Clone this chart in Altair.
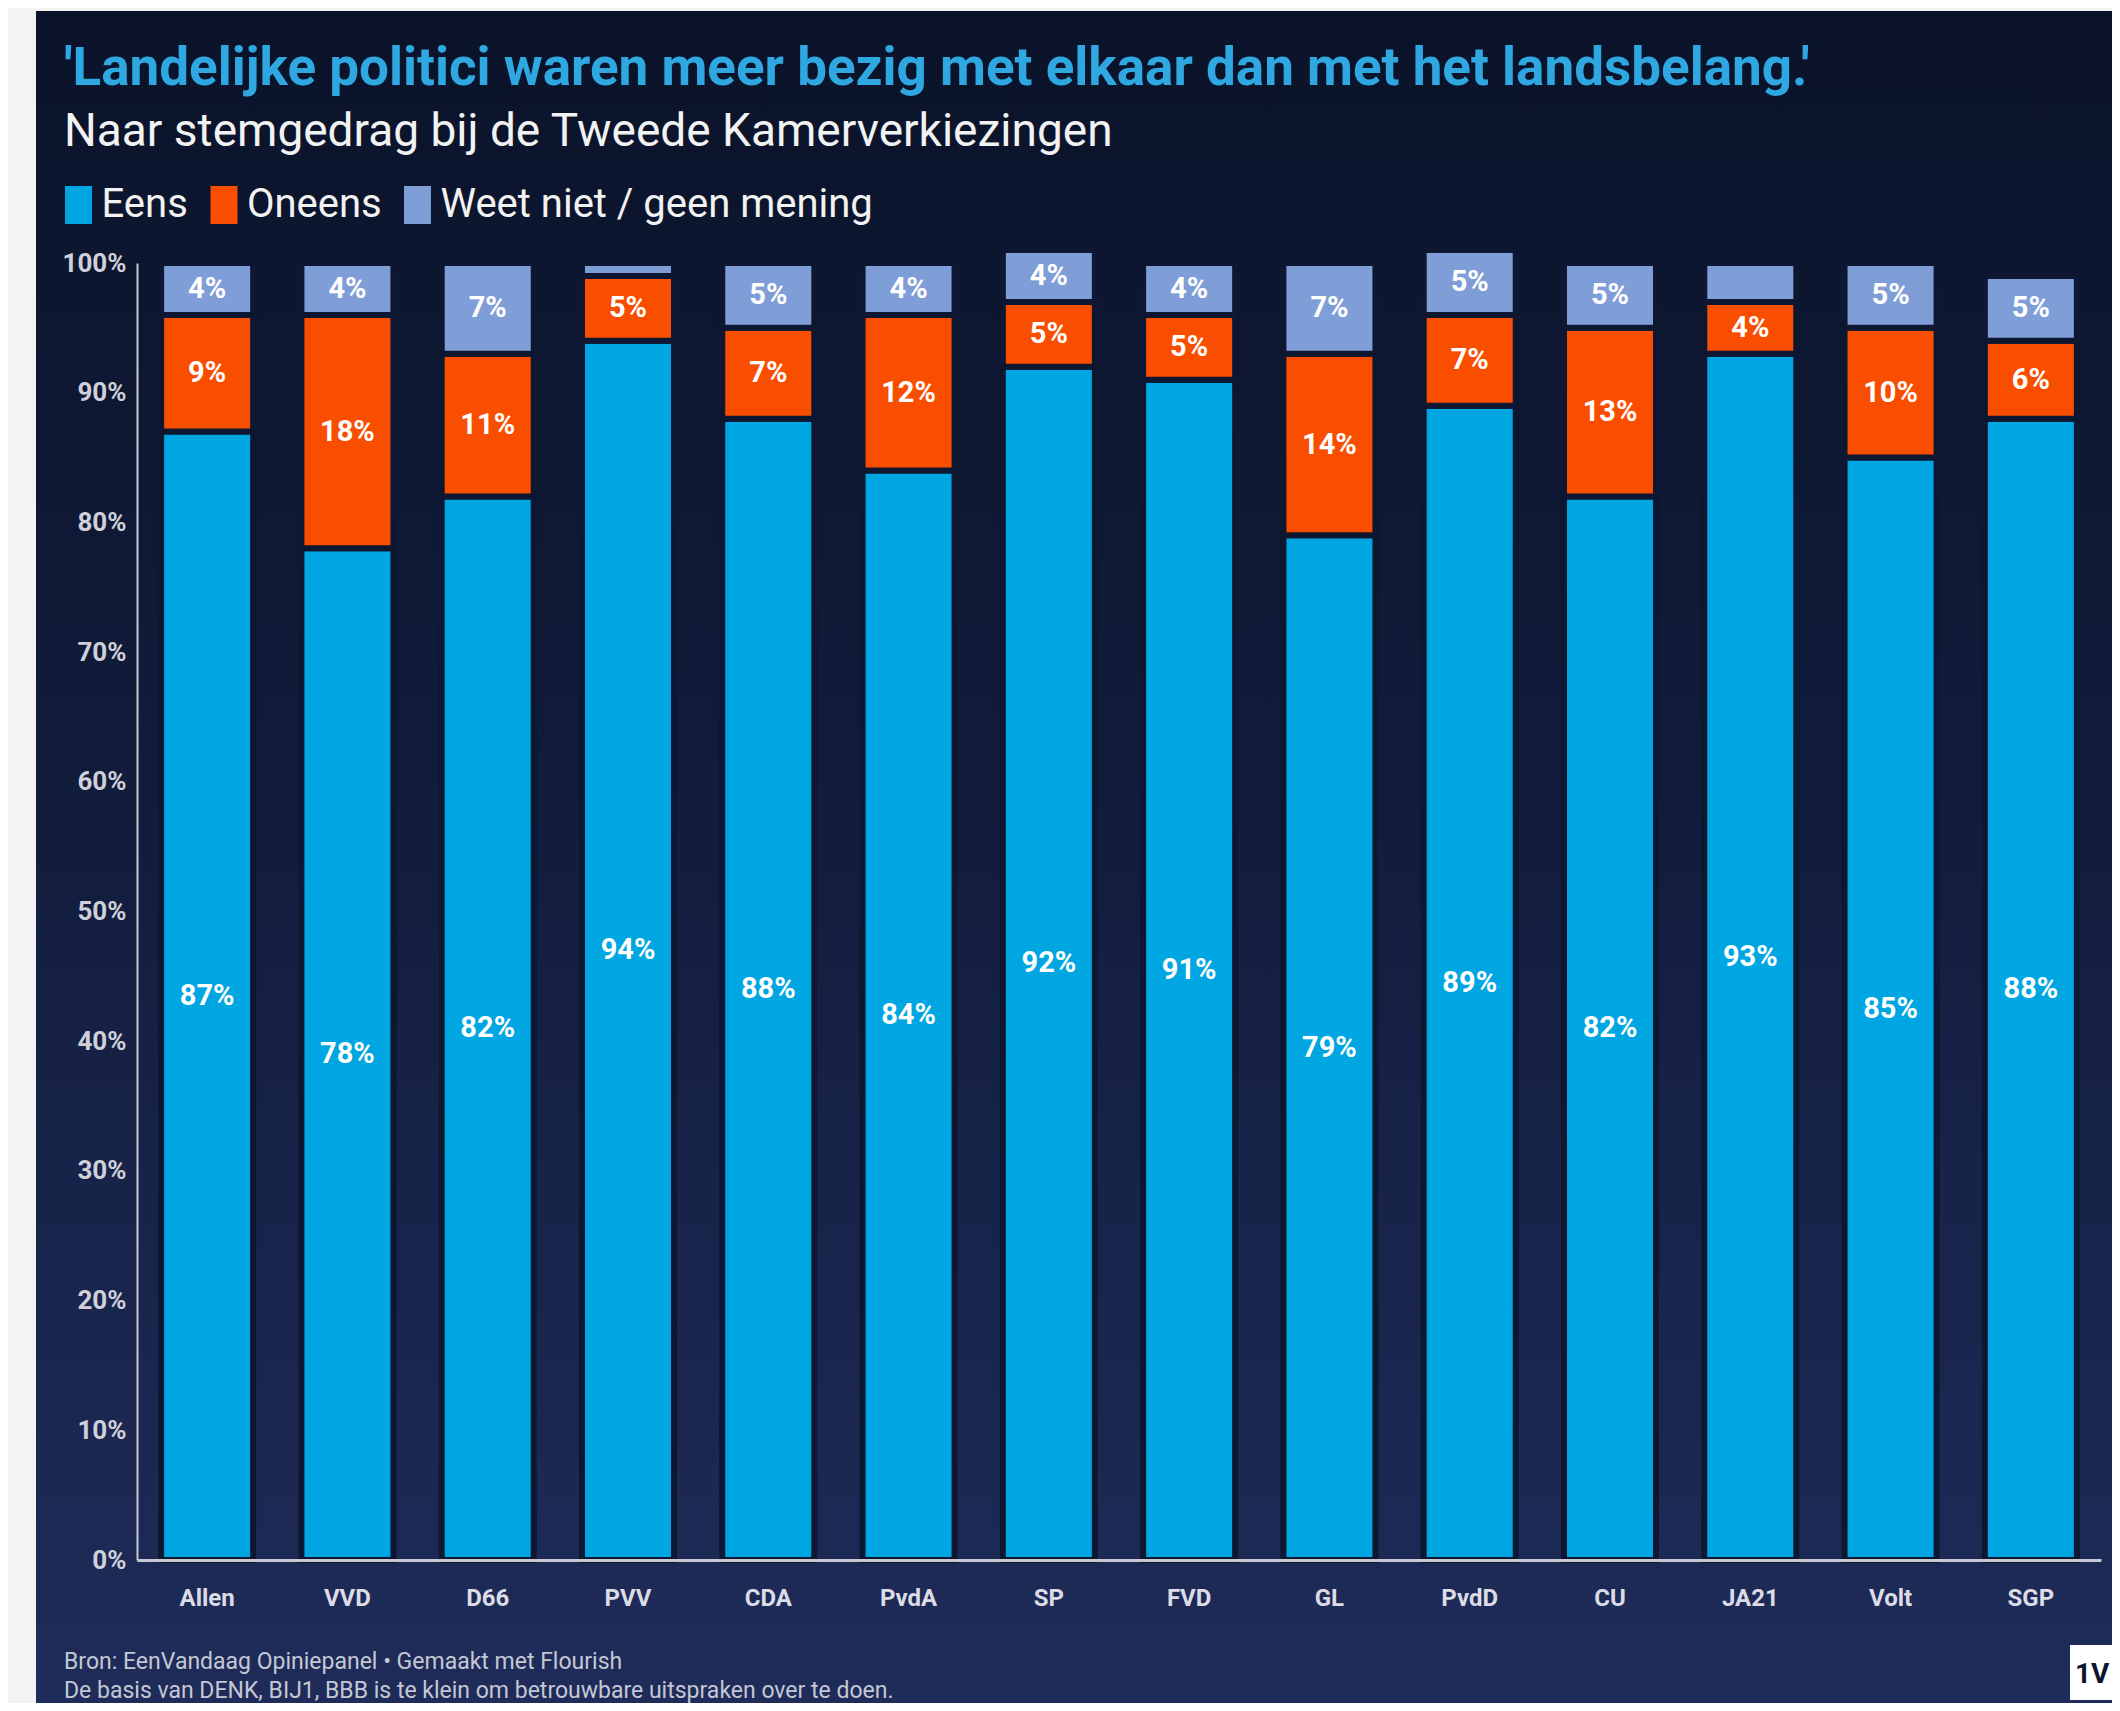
import altair as alt
import pandas as pd

# ---------------- data ----------------
PARTIES = ["Allen", "VVD", "D66", "PVV", "CDA", "PvdA", "SP", "FVD", "GL",
           "PvdD", "CU", "JA21", "Volt", "SGP"]
EENS = [87, 78, 82, 94, 88, 84, 92, 91, 79, 89, 82, 93, 85, 88]
ONEENS = [9, 18, 11, 5, 7, 12, 5, 5, 14, 7, 13, 4, 10, 6]
WEET = [4, 4, 7, 1, 5, 4, 4, 4, 7, 5, 5, 3, 5, 5]
CATEGORIES = ["Eens", "Oneens", "Weet niet / geen mening"]
COLORS = ["#00a6e1", "#f94e00", "#7f9dd6"]
Y_TICKS = [0, 10, 20, 30, 40, 50, 60, 70, 80, 90, 100]

TITLE = "'Landelijke politici waren meer bezig met elkaar dan met het landsbelang.'"
SUBTITLE = "Naar stemgedrag bij de Tweede Kamerverkiezingen"
FOOTER1 = "Bron: EenVandaag Opiniepanel \u2022 Gemaakt met Flourish"
FOOTER2 = "De basis van DENK, BIJ1, BBB is te klein om betrouwbare uitspraken over te doen."
LOGO = "1V"

rows = []
for i, p in enumerate(PARTIES):
    for k, (cat, vals) in enumerate(zip(CATEGORIES, [EENS, ONEENS, WEET])):
        rows.append({"party": p, "answer": cat, "value": vals[i], "order": k})
df = pd.DataFrame(rows)

FONT = "Roboto, Liberation Sans, sans-serif"
W, H = 1964, 1297

# ---------------- background panel ----------------
panel = alt.Chart(pd.DataFrame({"k": [0]})).mark_rect(
    color=alt.LinearGradient(
        gradient="linear",
        stops=[alt.GradientStop(color="#0a1329", offset=0),
               alt.GradientStop(color="#111c3b", offset=0.45),
               alt.GradientStop(color="#1f2c5a", offset=1)],
        x1=0, x2=0, y1=0, y2=1)
).encode(x=alt.value(-101), x2=alt.value(1975), y=alt.value(-252), y2=alt.value(1440))

# ---------------- bars ----------------
xenc = alt.X("party:N", sort=PARTIES,
             scale=alt.Scale(paddingInner=0.344, paddingOuter=0.172),
             axis=alt.Axis(title=None, labelAngle=0, ticks=False,
                           domainColor="#c8c8d0", domainWidth=3,
                           labelColor="#dcdce6", labelFont=FONT, labelFontSize=24,
                           labelFontWeight="bold", labelPadding=26, zindex=1))
yscale = alt.Scale(domain=[0, 100], nice=False, zero=True)
yaxis = alt.Axis(title=None, values=Y_TICKS, labelExpr="datum.value + '%'",
                 ticks=False, grid=False, domainColor="#c8c8d0", domainWidth=2,
                 labelColor="#d0d0da", labelFont=FONT, labelFontSize=26,
                 labelFontWeight="bold", labelPadding=11, zindex=1)

base = alt.Chart(df).transform_stack(
    stack="value", as_=["y0", "y1"], groupby=["party"],
    sort=[alt.SortField("order", order="ascending")])

bars = base.mark_bar(stroke="#0d1731", strokeWidth=6).encode(
    x=xenc,
    y=alt.Y("y0:Q", scale=yscale, axis=yaxis),
    y2="y1:Q",
    color=alt.Color("answer:N", scale=alt.Scale(domain=CATEGORIES, range=COLORS),
                    legend=alt.Legend(title=None, orient="none", legendX=-78.5, legendY=-78,
                                      direction="horizontal",
                                      symbolType="M-0.71,-1H0.71V1H-0.71Z", symbolSize=1444,
                                      symbolStrokeWidth=0, symbolOpacity=1,
                                      labelFont=FONT, labelFontSize=40, labelColor="#f2f2f2",
                                      labelLimit=1000,
                                      labelOffset=3, columnPadding=15.5, padding=0)),
    order=alt.Order("order:Q"),
)

labels = base.transform_calculate(
    mid="(datum.y0 + datum.y1) / 2", lbl="datum.value + '%'"
).transform_filter("datum.value >= 4").mark_text(
    font=FONT, fontSize=29, fontWeight="bold", color="white", baseline="middle"
).encode(x=alt.X("party:N", sort=PARTIES), y=alt.Y("mid:Q"), text="lbl:N")


def txt(s, x, y, size, color, weight="normal", align="left"):
    return alt.Chart(pd.DataFrame({"t": [s]})).mark_text(
        font=FONT, fontSize=size, fontWeight=weight, color=color,
        align=align, baseline="alphabetic"
    ).encode(x=alt.value(x), y=alt.value(y), text="t:N")


title = txt(TITLE, -73, -178, 53, "#2fa8e2", "bold")
subtitle = txt(SUBTITLE, -73, -117, 46, "#f2f2f2")
foot1 = txt(FOOTER1, -73, 1406, 23, "#c4c8d4")
foot2 = txt(FOOTER2, -73, 1435, 23, "#c4c8d4")

logo_box = alt.Chart(pd.DataFrame({"k": [0]})).mark_rect(color="white").encode(
    x=alt.value(1933), x2=alt.value(1975), y=alt.value(1382), y2=alt.value(1437))
logo_txt = txt(LOGO, 1938, 1420, 28, "#0c1630", "bold")

chart = alt.layer(panel, bars, labels, title, subtitle, foot1, foot2, logo_box, logo_txt).properties(
    width=W, height=H,
    autosize=alt.AutoSizeParams(type="none"),
    padding={"left": 129, "top": 255, "right": 11, "bottom": 143},
    background="#f3f3f3",
).configure_view(stroke=None)

chart.save("out.html", embed_options={"renderer": "svg", "actions": False})
